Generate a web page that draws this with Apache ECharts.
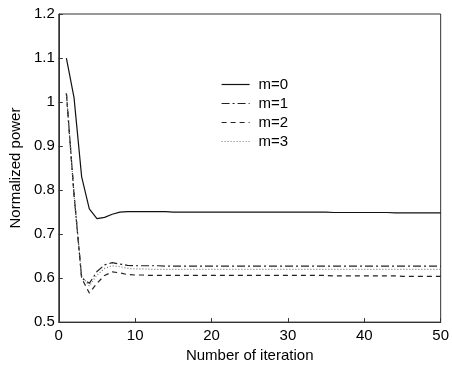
<!DOCTYPE html>
<html>
<head>
<meta charset="utf-8">
<script src="https://cdn.jsdelivr.net/npm/echarts@6/dist/echarts.min.js"></script>
<style>html,body{margin:0;padding:0;background:#fff;}#c{width:452px;height:368px;}</style>
</head>
<body>
<div id="c"></div>
<script>
var iterations = [1,2,3,4,5,6,7,8,9,10,11,12,13,14,15,16,17,18,19,20,21,22,23,24,25,26,27,28,29,30,31,32,33,34,35,36,37,38,39,40,41,42,43,44,45,46,47,48,49,50];
var seriesNames = ['m=0','m=1','m=2','m=3'];
var m0 = [1.10,1.01,0.83,0.757,0.735,0.738,0.745,0.750,0.751,0.751,0.751,0.751,0.751,0.751,0.750,0.750,0.750,0.750,0.750,0.750,0.750,0.750,0.750,0.750,0.750,0.750,0.750,0.750,0.750,0.750,0.750,0.750,0.750,0.750,0.750,0.749,0.749,0.749,0.749,0.749,0.749,0.749,0.749,0.748,0.748,0.748,0.748,0.748,0.748,0.748];
var m1 = [1.02,0.79,0.60,0.588,0.615,0.630,0.635,0.632,0.629,0.628,0.628,0.628,0.628,0.627,0.627,0.627,0.627,0.627,0.627,0.627,0.627,0.627,0.627,0.627,0.627,0.627,0.627,0.627,0.627,0.627,0.627,0.627,0.627,0.627,0.627,0.627,0.627,0.627,0.627,0.627,0.627,0.627,0.627,0.627,0.627,0.627,0.627,0.627,0.627,0.627];
var m2 = [1.02,0.79,0.60,0.566,0.588,0.606,0.614,0.612,0.608,0.607,0.607,0.606,0.606,0.606,0.606,0.606,0.606,0.606,0.606,0.606,0.606,0.606,0.606,0.606,0.606,0.606,0.606,0.606,0.606,0.606,0.606,0.606,0.606,0.606,0.606,0.605,0.605,0.605,0.605,0.605,0.605,0.605,0.605,0.605,0.604,0.604,0.604,0.604,0.604,0.604];
var m3 = [1.02,0.79,0.605,0.582,0.607,0.622,0.628,0.626,0.622,0.621,0.621,0.620,0.620,0.620,0.620,0.620,0.620,0.620,0.620,0.620,0.620,0.620,0.620,0.620,0.620,0.620,0.620,0.620,0.620,0.620,0.620,0.620,0.620,0.620,0.620,0.620,0.620,0.620,0.620,0.620,0.620,0.620,0.620,0.620,0.620,0.620,0.620,0.620,0.620,0.620];

function pairs(arr){ return iterations.map(function(x,i){ return [x, arr[i]]; }); }

var font = 'Liberation Sans, Arial, sans-serif';
var styles = [
  {color:'#111', type:'solid', width:1.2},
  {color:'#222', type:[8,3,2,3], width:1.2},
  {color:'#222', type:[5,4], width:1.2},
  {color:'#777', type:[1,2], width:1.2}
];
var datas = [m0,m1,m2,m3];

var chart = echarts.init(document.getElementById('c'), null, {renderer:'canvas'});
chart.setOption({
  animation:false,
  backgroundColor:'#fff',
  textStyle:{fontFamily:font, color:'#000'},
  grid:{left:47, right:8, top:14, bottom:40, show:true, borderColor:'#333', borderWidth:1, backgroundColor:'transparent'},
  legend:{
    orient:'vertical', left:216, top:72, itemWidth:28, itemHeight:14, itemGap:4,
    itemStyle:{opacity:0},
    lineStyle:{width:1.2},
    textStyle:{fontFamily:font, fontSize:15, color:'#000', padding:[0,0,0,4]},
    data:seriesNames
  },
  xAxis:{
    type:'value', min:0, max:50, interval:10,
    name:'Number of iteration', nameLocation:'middle', nameGap:16,
    nameTextStyle:{fontFamily:font, fontSize:15, color:'#000'},
    axisLine:{show:true, onZero:false, lineStyle:{color:'#333', width:1}},
    axisTick:{show:true, inside:true, length:4, lineStyle:{color:'#333'}},
    axisLabel:{fontFamily:font, fontSize:15, color:'#000', margin:6},
    splitLine:{show:false}
  },
  yAxis:{
    type:'value', min:0.5, max:1.2, interval:0.1,
    name:'Normalized power', nameLocation:'middle', nameGap:34,
    nameTextStyle:{fontFamily:font, fontSize:15, color:'#000'},
    axisLine:{show:true, lineStyle:{color:'#333', width:1}},
    axisTick:{show:true, inside:true, length:4, lineStyle:{color:'#333'}},
    axisLabel:{fontFamily:font, fontSize:15, color:'#000', margin:4},
    splitLine:{show:false}
  },
  series:seriesNames.map(function(n,i){
    return {
      name:n, type:'line', data:pairs(datas[i]), showSymbol:false, symbol:'none',
      lineStyle:styles[i], itemStyle:{color:styles[i].color}
    };
  })
});
</script>
</body>
</html>
